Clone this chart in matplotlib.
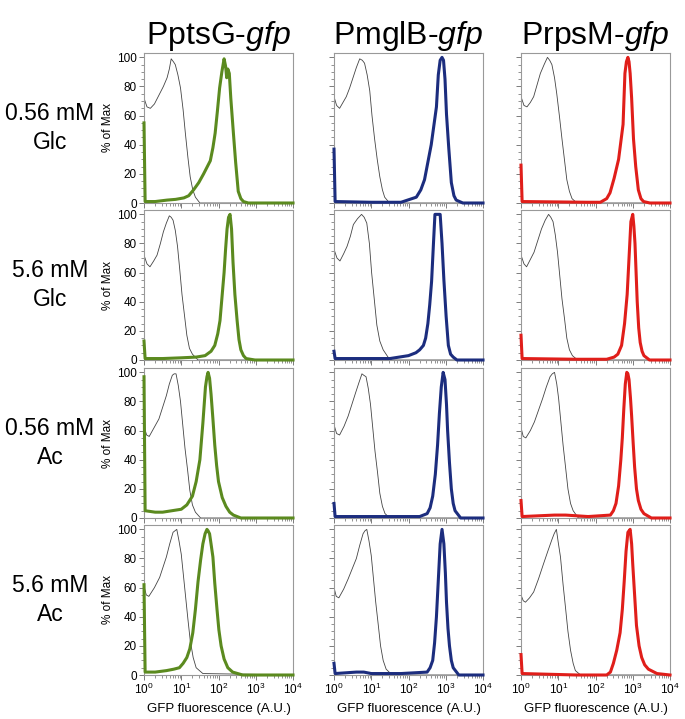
import numpy as np
import matplotlib.pyplot as plt
from matplotlib.ticker import LogLocator, MultipleLocator, NullFormatter

plt.rcParams['font.family'] = ['Liberation Sans', 'DejaVu Sans']
plt.rcParams['mathtext.fontset'] = 'custom'
plt.rcParams['mathtext.rm'] = 'Liberation Sans'
plt.rcParams['mathtext.it'] = 'Liberation Sans:italic'

reporters = ['PptsG', 'PmglB', 'PrpsM']
conditions = ['0.56 mM\nGlc', '5.6 mM\nGlc', '0.56 mM\nAc', '5.6 mM\nAc']
xtick_labels = ['$10^{0}$', '$10^{1}$', '$10^{2}$', '$10^{3}$', '$10^{4}$']

# histograms: log10(fluorescence) positions and % of max, per condition (row) and reporter (column)
grey_x = [
    [[0, 0.08, 0.17, 0.28, 0.4, 0.52, 0.62, 0.68, 0.73, 0.79, 0.84, 0.91, 0.98, 1.05, 1.11, 1.18, 1.24, 1.31, 1.38, 1.5, 4],
     [0, 0.07, 0.15, 0.24, 0.33, 0.42, 0.51, 0.6, 0.69, 0.76, 0.82, 0.89, 0.96, 1.02, 1.09, 1.16, 1.23, 1.3, 1.36, 1.49, 4],
     [0, 0.08, 0.16, 0.25, 0.34, 0.43, 0.52, 0.62, 0.71, 0.77, 0.83, 0.9, 0.96, 1.03, 1.1, 1.17, 1.23, 1.3, 1.37, 1.5, 4]],
    [[0, 0.08, 0.16, 0.26, 0.35, 0.44, 0.52, 0.6, 0.68, 0.73, 0.78, 0.84, 0.9, 0.96, 1.02, 1.09, 1.15, 1.22, 1.3, 1.45, 4],
     [0, 0.08, 0.16, 0.26, 0.35, 0.44, 0.52, 0.63, 0.74, 0.81, 0.88, 0.95, 1.01, 1.08, 1.15, 1.23, 1.32, 1.45, 1.55, 4],
     [0, 0.08, 0.15, 0.25, 0.35, 0.45, 0.55, 0.65, 0.74, 0.8, 0.86, 0.92, 0.98, 1.04, 1.1, 1.17, 1.23, 1.3, 1.38, 1.52, 4]],
    [[0, 0.07, 0.14, 0.27, 0.4, 0.5, 0.6, 0.68, 0.76, 0.81, 0.86, 0.92, 0.98, 1.04, 1.1, 1.17, 1.23, 1.3, 1.38, 1.52, 4],
     [0, 0.07, 0.15, 0.27, 0.38, 0.48, 0.58, 0.67, 0.75, 0.8, 0.86, 0.92, 0.98, 1.04, 1.1, 1.17, 1.23, 1.3, 1.37, 1.5, 4],
     [0, 0.06, 0.13, 0.25, 0.36, 0.47, 0.58, 0.68, 0.78, 0.84, 0.9, 0.96, 1.01, 1.07, 1.13, 1.2, 1.26, 1.33, 1.4, 1.54, 4]],
    [[0, 0.06, 0.13, 0.28, 0.42, 0.51, 0.6, 0.69, 0.78, 0.83, 0.88, 0.94, 1.0, 1.06, 1.12, 1.18, 1.24, 1.32, 1.4, 1.58, 4],
     [0, 0.06, 0.13, 0.26, 0.38, 0.49, 0.6, 0.69, 0.78, 0.83, 0.88, 0.94, 1.0, 1.06, 1.12, 1.19, 1.25, 1.32, 1.4, 1.56, 4],
     [0, 0.06, 0.12, 0.23, 0.34, 0.47, 0.6, 0.72, 0.83, 0.89, 0.95, 1.0, 1.06, 1.13, 1.2, 1.26, 1.33, 1.4, 1.46, 1.6, 4]],
]
grey_y = [
    [[72, 66, 65, 68, 74, 80, 86, 92, 99, 97, 95, 88, 79, 64, 48, 31, 18, 9, 4, 0, 0],
     [73, 67, 65, 69, 73, 79, 86, 93, 99, 98, 96, 88, 77, 60, 44, 30, 18, 9, 4, 0, 0],
     [73, 67, 66, 69, 73, 81, 89, 95, 100, 98, 95, 86, 75, 60, 44, 29, 16, 8, 3, 0, 0]],
    [[72, 66, 64, 68, 72, 80, 88, 94, 99, 98, 96, 89, 78, 62, 45, 30, 17, 8, 4, 0, 0],
     [76, 70, 68, 73, 78, 85, 93, 97, 100, 98, 94, 80, 60, 42, 24, 13, 7, 2, 0, 0],
     [72, 66, 64, 69, 74, 82, 90, 96, 100, 98, 95, 86, 74, 58, 42, 28, 15, 7, 3, 0, 0]],
    [[63, 57, 56, 62, 68, 76, 84, 92, 98, 99, 99, 91, 80, 64, 48, 33, 19, 9, 4, 0, 0],
     [64, 58, 57, 63, 70, 78, 86, 93, 99, 98, 97, 89, 78, 62, 46, 31, 17, 8, 3, 0, 0],
     [62, 56, 55, 60, 66, 74, 82, 90, 97, 99, 100, 92, 82, 66, 50, 34, 20, 10, 5, 0, 0]],
    [[61, 55, 54, 60, 67, 74, 81, 90, 98, 99, 100, 92, 83, 68, 53, 38, 24, 12, 5, 1, 0],
     [60, 54, 53, 59, 66, 73, 80, 89, 97, 99, 100, 92, 82, 66, 50, 34, 20, 10, 4, 0, 0],
     [55, 51, 50, 53, 57, 66, 76, 85, 93, 97, 100, 91, 81, 62, 45, 30, 17, 8, 3, 0, 0]],
]

gfp_x = [
    [[0, 0.03, 0.3, 0.62, 0.85, 1.07, 1.2, 1.33, 1.47, 1.6, 1.7, 1.78, 1.85, 1.91, 1.97, 2.03, 2.09, 2.15, 2.19, 2.22, 2.25, 2.29, 2.33, 2.4, 2.46, 2.53, 2.6, 2.67, 2.8, 3.0, 4],
     [0, 0.03, 1.0, 1.8, 2.21, 2.33, 2.43, 2.52, 2.61, 2.68, 2.75, 2.8, 2.85, 2.9, 2.94, 2.98, 3.02, 3.08, 3.15, 3.22, 3.28, 3.46, 4],
     [0, 0.03, 1.8, 2.13, 2.3, 2.39, 2.5, 2.62, 2.7, 2.74, 2.79, 2.83, 2.87, 2.9, 2.93, 2.97, 3.02, 3.08, 3.15, 3.22, 3.29, 3.46, 4]],
    [[0, 0.03, 0.5, 1.0, 1.4, 1.64, 1.8, 1.9, 1.98, 2.04, 2.1, 2.15, 2.19, 2.23, 2.27, 2.31, 2.35, 2.39, 2.44, 2.5, 2.55, 2.6, 2.67, 2.74, 2.98, 4],
     [0, 0.03, 1.0, 1.5, 2.0, 2.2, 2.3, 2.4, 2.46, 2.52, 2.57, 2.62, 2.67, 2.71, 2.78, 2.85, 2.9, 2.95, 3.01, 3.07, 3.13, 3.2, 3.3, 3.4, 4],
     [0, 0.03, 1.5, 2.3, 2.5, 2.6, 2.7, 2.78, 2.85, 2.9, 2.95, 3.0, 3.03, 3.06, 3.09, 3.12, 3.16, 3.2, 3.25, 3.3, 3.45, 4]],
    [[0, 0.03, 0.3, 0.5, 0.75, 1.0, 1.15, 1.3, 1.4, 1.5, 1.58, 1.65, 1.69, 1.72, 1.76, 1.8, 1.85, 1.9, 1.95, 2.0, 2.1, 2.2, 2.3, 2.4, 2.6, 4],
     [0, 0.03, 1.5, 2.3, 2.5, 2.58, 2.65, 2.72, 2.78, 2.83, 2.88, 2.93, 2.98, 3.02, 3.05, 3.1, 3.15, 3.2, 3.25, 3.4, 4],
     [0, 0.03, 0.9, 1.2, 1.8, 2.4, 2.48, 2.55, 2.62, 2.68, 2.72, 2.76, 2.8, 2.84, 2.87, 2.9, 2.94, 2.97, 3.01, 3.05, 3.1, 3.15, 3.22, 3.3, 3.5, 4]],
    [[0, 0.03, 0.3, 0.6, 0.8, 0.95, 1.05, 1.15, 1.23, 1.31, 1.38, 1.45, 1.52, 1.58, 1.64, 1.69, 1.72, 1.76, 1.8, 1.85, 1.9, 1.96, 2.01, 2.07, 2.15, 2.25, 2.38, 2.65, 4],
     [0, 0.03, 0.6, 0.8, 1.0, 1.8, 2.5, 2.58, 2.65, 2.7, 2.75, 2.8, 2.85, 2.9, 2.95, 2.99, 3.02, 3.06, 3.1, 3.15, 3.2, 3.35, 4],
     [0, 0.03, 1.5, 2.3, 2.4, 2.48, 2.57, 2.66, 2.72, 2.77, 2.82, 2.87, 2.93, 2.97, 3.0, 3.05, 3.1, 3.17, 3.24, 3.32, 3.42, 3.65, 4]],
]
gfp_y = [
    [[55, 1, 1, 2, 2.5, 3.5, 5, 9, 14, 20, 25, 29, 38, 48, 63, 79, 90, 99, 94, 86, 92, 89, 72, 48, 28, 8, 3, 1, 0, 0, 0],
     [37, 1, 0.5, 0.5, 4, 9, 16, 28, 40, 53, 66, 88, 98, 100, 98, 85, 61, 38, 14, 5, 2, 0, 0],
     [26, 1, 0.5, 0.5, 3, 7, 17, 30, 46, 54, 89, 97, 100, 97, 89, 72, 44, 25, 9, 3, 1, 0, 0]],
    [[13, 1, 1, 1.5, 2, 3, 6, 10, 18, 27, 45, 60, 76, 90, 98, 100, 90, 67, 45, 27, 14, 7, 3, 1, 0, 0],
     [6, 1, 1, 1, 3, 5, 7, 10, 15, 25, 38, 54, 80, 100, 100, 100, 80, 55, 30, 10, 4, 2, 0, 0, 0],
     [17, 1, 0.5, 0.5, 2, 4, 10, 25, 45, 70, 95, 100, 92, 80, 60, 40, 22, 12, 6, 3, 0, 0]],
    [[97, 5, 4, 4, 5, 6, 9, 15, 25, 40, 65, 90, 97, 100, 96, 85, 68, 50, 36, 25, 14, 8, 4, 2, 0, 0],
     [10, 1, 1, 1, 3, 7, 15, 30, 50, 72, 90, 100, 95, 78, 60, 38, 20, 10, 5, 0, 0],
     [12, 1, 2, 2, 1, 2, 5, 10, 22, 40, 55, 75, 92, 100, 99, 95, 82, 70, 52, 35, 20, 12, 6, 3, 0, 0]],
    [[62, 2, 2, 3, 4, 5, 8, 12, 18, 29, 45, 64, 79, 90, 97, 100, 99, 97, 90, 81, 63, 45, 31, 20, 11, 5, 2, 0, 0],
     [8, 1, 2, 2, 1, 1, 2, 5, 10, 22, 40, 65, 90, 100, 90, 70, 50, 32, 20, 10, 5, 0, 0],
     [14, 1, 0, 0, 2, 8, 17, 29, 45, 64, 85, 98, 100, 90, 76, 55, 34, 20, 12, 7, 4, 1, 0]],
]

colors = ['#5b8a1f', '#1c2d7e', '#e01e1a']

fig = plt.figure(figsize=(6.85, 7.19), dpi=100)
W, H = 685, 719
col_left = [144, 334, 521]
row_top = [53, 210, 368, 525]
pw, ph = 149, 150

for r in range(4):
    for c in range(3):
        ax = fig.add_axes([col_left[c] / W, 1 - (row_top[r] + ph) / H, pw / W, ph / H])
        ax.plot(10 ** np.array(grey_x[r][c]), grey_y[r][c], color='#444444', lw=0.6)
        ax.plot(10 ** np.array(gfp_x[r][c]), gfp_y[r][c], color=colors[c], lw=2.2,
                clip_on=False, zorder=5, solid_joinstyle='round')
        ax.set_xscale('log')
        ax.set_xlim(1, 1e4)
        ax.set_ylim(0, 103)
        ax.yaxis.set_major_locator(MultipleLocator(20))
        ax.yaxis.set_minor_locator(MultipleLocator(5))
        ax.xaxis.set_major_locator(LogLocator(base=10, numticks=10))
        ax.xaxis.set_minor_locator(LogLocator(base=10, subs=np.arange(2, 10), numticks=10))
        ax.xaxis.set_minor_formatter(NullFormatter())
        for s in ax.spines.values():
            s.set_color('#999999')
            s.set_linewidth(0.8)
        ax.tick_params(which='major', length=3.5, width=0.6, color='#666666', labelsize=8.5, pad=1.5)
        ax.tick_params(which='minor', length=2, width=0.5, color='#666666')
        if c == 0:
            ax.set_ylabel('% of Max', fontsize=8.5, labelpad=2)
        else:
            ax.set_yticklabels([])
        if r == 3:
            ax.set_xticks([1, 10, 100, 1000, 10000])
            ax.set_xticklabels(xtick_labels)
            ax.set_xlabel('GFP fluorescence (A.U.)', fontsize=9.5, labelpad=4)
        else:
            ax.set_xticklabels([])
        if r == 0:
            ax.set_title(reporters[c] + r'-$\it{gfp}$', fontsize=23, pad=6)
        if c == 0:
            fig.text(50 / W, 1 - (row_top[r] + ph / 2) / H, conditions[r],
                     ha='center', va='center', fontsize=16.5, linespacing=1.3)

fig.savefig('out.png', dpi=100)
